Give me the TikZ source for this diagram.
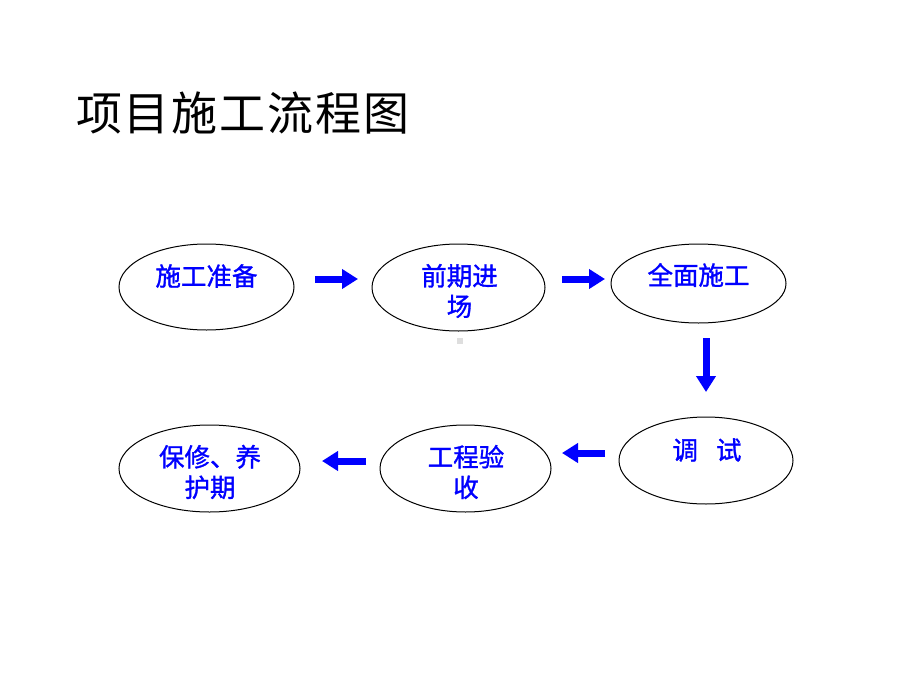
\documentclass[tikz,border=0pt]{standalone}
\usepackage{fontspec}
\setmainfont{Noto Sans CJK SC}
\newfontfamily\cjk[FakeBold=1.2]{Noto Sans CJK SC}
\newfontfamily\cjktitle[LetterSpace=4]{Noto Sans CJK SC}
\usetikzlibrary{arrows.meta,shapes.geometric}
\definecolor{flowblue}{RGB}{0,0,255}
\tikzset{
  stage/.style={draw=black, line width=1pt, ellipse, inner sep=0pt},
  label/.style={text=flowblue, font=\cjk\fontsize{25.5pt}{30.5pt}\selectfont, align=center, inner sep=0pt},
  bigarrow/.style={draw=flowblue, line width=7pt, -{Triangle[length=16pt,width=19pt]}},
}
\begin{document}
\begin{tikzpicture}[x=1pt,y=-1pt]
\useasboundingbox[fill=white] (0,0) rectangle (920,690);
\node[font=\cjktitle\fontsize{46pt}{50pt}\selectfont, anchor=west, inner sep=0pt] (title) at (76,113) {项目施工流程图};

\node[stage, minimum width=175pt, minimum height=86pt] (e1) at (206.5,287) {};
\node[stage, minimum width=173pt, minimum height=87pt] (e2) at (458.5,287.5) {};
\node[stage, minimum width=175pt, minimum height=79pt] (e3) at (698.5,283.5) {};
\node[stage, minimum width=174pt, minimum height=87pt] (e4) at (706,460.5) {};
\node[stage, minimum width=171pt, minimum height=87pt] (e5) at (465.5,468.5) {};
\node[stage, minimum width=181pt, minimum height=87pt] (e6) at (209.5,468.5) {};

\node[label] (t1) at (206.5,276) {施工准备};
\node[label] (t2) at (459.5,291) {前期进\\场};
\node[label] (t3) at (698.5,275) {全面施工};
\node[label] (t4) at (707,450) {调\hspace{18pt}试};
\node[label] (t5) at (466,472) {工程验\\收};
\node[label] (t6) at (210,472) {保修、养\\护期};

\fill[black!13] (457,338) rectangle (463,344);

\coordinate (a1s) at (315,279); \coordinate (a1e) at (358,279);
\coordinate (a2s) at (562,279); \coordinate (a2e) at (605,279);
\coordinate (a3s) at (706,338); \coordinate (a3e) at (706,392);
\coordinate (a4s) at (605,453); \coordinate (a4e) at (562,453);
\coordinate (a5s) at (366,461); \coordinate (a5e) at (322,461);
\draw[bigarrow] (a1s) -- (a1e);
\draw[bigarrow] (a2s) -- (a2e);
\draw[bigarrow] (a3s) -- (a3e);
\draw[bigarrow] (a4s) -- (a4e);
\draw[bigarrow] (a5s) -- (a5e);
\end{tikzpicture}
\end{document}
